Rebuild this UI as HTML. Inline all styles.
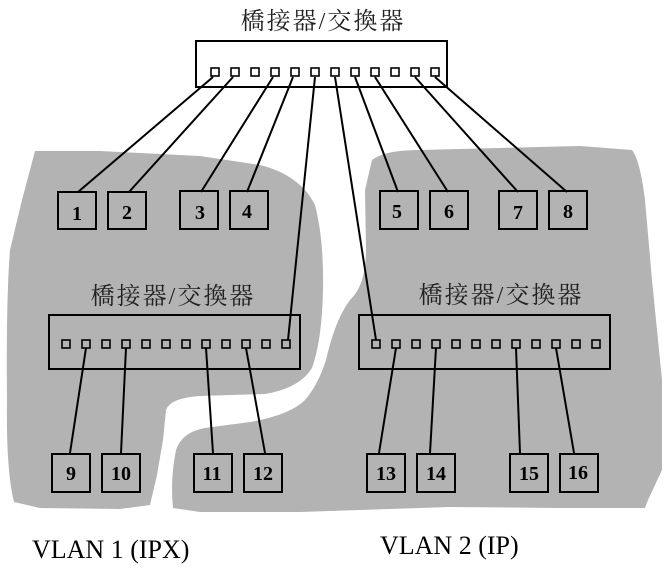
<!DOCTYPE html>
<html><head><meta charset="utf-8"><style>
html,body{margin:0;padding:0;background:#fff;}
svg{display:block;}
.n{font-family:"Liberation Serif",serif;font-weight:bold;font-size:20px;text-anchor:middle;}
.c{font-family:"Liberation Serif","Noto Serif CJK SC",serif;font-size:24px;letter-spacing:2px;text-anchor:middle;fill:#222;}
.v{font-family:"Liberation Serif",serif;font-size:26px;}
</style></head><body>
<svg width="669" height="574" viewBox="0 0 669 574" xmlns="http://www.w3.org/2000/svg">
<path fill="#b3b3b3" d="M35,151 L100,151 L200,156 L260,165 Q300,175 315,205 Q324,240 323,290 Q322,340 312,368 Q300,388 265,394 L200,396 Q170,398 166,410 L163,440 L157,475 L150,505 L120,509 L40,508 L14,502 Q6,470 7,400 Q6,300 10,250 L22,200 Z"/>
<path fill="#b3b3b3" d="M372,160 Q385,150 420,150 L580,146 L632,150 Q640,160 645,200 L652,280 L662,380 L662,470 L648,500 L645,508 L560,508 L450,507 L360,510 L300,512 L200,512 L173,508 Q170,480 176,450 Q182,432 205,428 L250,422 Q290,415 305,400 Q318,385 326,360 Q335,320 350,300 Q366,285 366,250 L365,190 Z"/>
<g fill="none" stroke="#000" stroke-width="2">
<rect x="196" y="41" width="251" height="46"/>
<rect x="49" y="315" width="251" height="54"/>
<rect x="359" y="315" width="251" height="54"/>
</g>
<g fill="none" stroke="#000" stroke-width="1.6">
<rect x="211" y="68" width="8" height="8"/><rect x="231" y="68" width="8" height="8"/><rect x="251" y="68" width="8" height="8"/><rect x="271" y="68" width="8" height="8"/><rect x="291" y="68" width="8" height="8"/><rect x="311" y="68" width="8" height="8"/><rect x="331" y="68" width="8" height="8"/><rect x="351" y="68" width="8" height="8"/><rect x="371" y="68" width="8" height="8"/><rect x="391" y="68" width="8" height="8"/><rect x="411" y="68" width="8" height="8"/><rect x="431" y="68" width="8" height="8"/>
<rect x="62" y="340" width="8" height="8"/><rect x="82" y="340" width="8" height="8"/><rect x="102" y="340" width="8" height="8"/><rect x="122" y="340" width="8" height="8"/><rect x="142" y="340" width="8" height="8"/><rect x="162" y="340" width="8" height="8"/><rect x="182" y="340" width="8" height="8"/><rect x="202" y="340" width="8" height="8"/><rect x="222" y="340" width="8" height="8"/><rect x="242" y="340" width="8" height="8"/><rect x="262" y="340" width="8" height="8"/><rect x="282" y="340" width="8" height="8"/>
<rect x="372" y="340" width="8" height="8"/><rect x="392" y="340" width="8" height="8"/><rect x="412" y="340" width="8" height="8"/><rect x="432" y="340" width="8" height="8"/><rect x="452" y="340" width="8" height="8"/><rect x="472" y="340" width="8" height="8"/><rect x="492" y="340" width="8" height="8"/><rect x="512" y="340" width="8" height="8"/><rect x="532" y="340" width="8" height="8"/><rect x="552" y="340" width="8" height="8"/><rect x="572" y="340" width="8" height="8"/><rect x="592" y="340" width="8" height="8"/>
</g>
<g stroke="#000" stroke-width="2" fill="none">
<line x1="213" y1="77" x2="78" y2="192"/>
<line x1="233" y1="77" x2="129" y2="192"/>
<line x1="273" y1="77" x2="201" y2="192"/>
<line x1="293" y1="77" x2="247" y2="192"/>
<line x1="315" y1="77" x2="288" y2="340"/>
<line x1="335" y1="77" x2="376" y2="340"/>
<line x1="355" y1="77" x2="398" y2="192"/>
<line x1="375" y1="77" x2="448" y2="192"/>
<line x1="415" y1="77" x2="518" y2="192"/>
<line x1="435" y1="77" x2="567" y2="192"/>
<line x1="86" y1="348" x2="70" y2="453"/>
<line x1="126" y1="348" x2="121" y2="453"/>
<line x1="206" y1="348" x2="213" y2="453"/>
<line x1="246" y1="348" x2="265" y2="453"/>
<line x1="396" y1="348" x2="379" y2="453"/>
<line x1="436" y1="348" x2="430" y2="453"/>
<line x1="516" y1="348" x2="520" y2="453"/>
<line x1="556" y1="348" x2="574" y2="453"/>
</g>
<g fill="none" stroke="#000" stroke-width="2">
<rect x="58" y="192" width="38" height="37"/><rect x="108" y="192" width="38" height="37"/>
<rect x="180" y="191" width="38" height="38"/><rect x="230" y="191" width="38" height="38"/>
<rect x="380" y="191" width="38" height="38"/><rect x="430" y="191" width="38" height="38"/>
<rect x="499" y="191" width="38" height="38"/><rect x="549" y="191" width="38" height="38"/>
<rect x="52" y="454" width="38" height="38"/><rect x="102" y="454" width="38" height="38"/>
<rect x="194" y="454" width="38" height="38"/><rect x="244" y="454" width="38" height="38"/>
<rect x="367" y="454" width="38" height="38"/><rect x="417" y="454" width="38" height="38"/>
<rect x="510" y="454" width="38" height="38"/><rect x="560" y="454" width="38" height="38"/>
</g>
<g class="n">
<text x="77" y="220">1</text><text x="127" y="219">2</text><text x="200" y="219">3</text><text x="247" y="218">4</text>
<text x="397" y="218">5</text><text x="449" y="218">6</text><text x="518" y="219">7</text><text x="568" y="218">8</text>
<text x="71" y="480">9</text><text x="121" y="480">10</text><text x="212" y="480">11</text><text x="263" y="480">12</text>
<text x="386" y="480">13</text><text x="436" y="480">14</text><text x="529" y="480">15</text><text x="578" y="479">16</text>
</g>
<text class="c" x="323" y="29">橋接器/交換器</text>
<text class="c" x="173" y="304">橋接器/交換器</text>
<text class="c" x="501" y="303">橋接器/交換器</text>
<text class="v" x="32" y="558">VLAN 1 (IPX)</text>
<text class="v" x="380" y="554">VLAN 2 (IP)</text>
</svg>
</body></html>
